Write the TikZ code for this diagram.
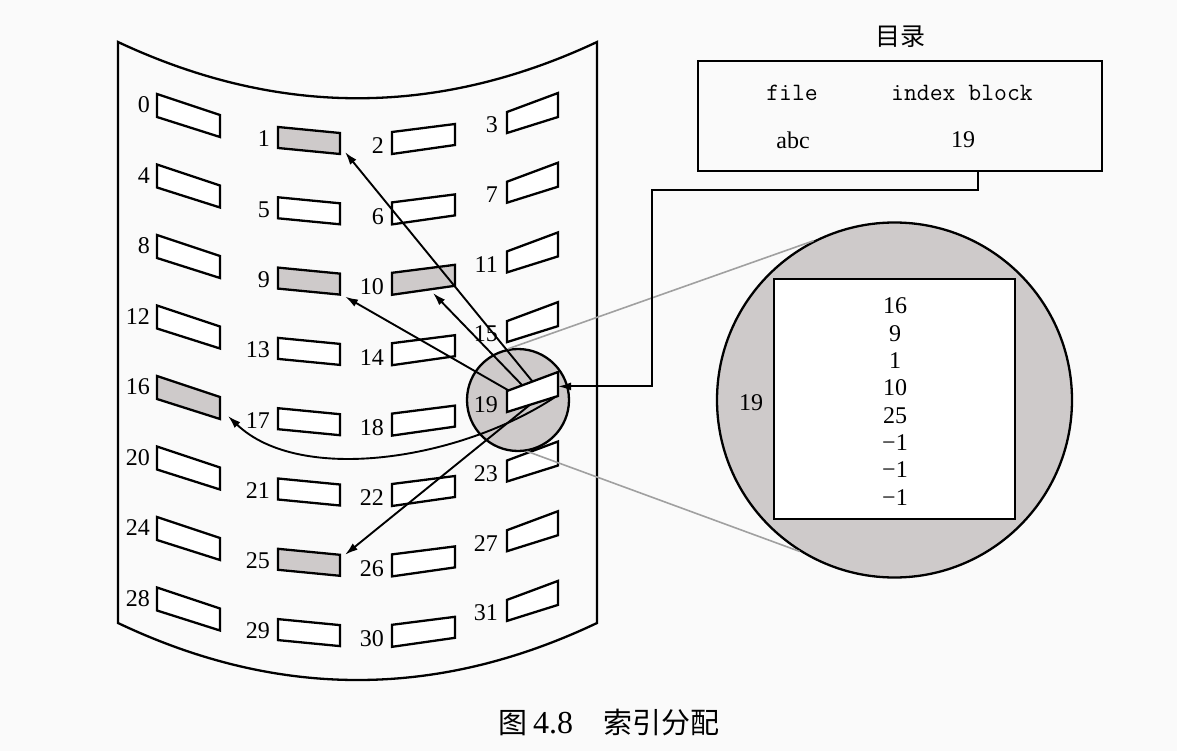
\documentclass[tikz,border=0pt]{standalone}
\usepackage{fontspec}
\setmainfont{Liberation Serif}
\newfontfamily\cjk{Noto Sans CJK SC}
\usetikzlibrary{arrows.meta,calc}
\definecolor{bg}{RGB}{250,250,250}
\definecolor{shade}{RGB}{206,202,202}
\definecolor{rimgray}{RGB}{160,160,160}
\tikzset{
  outline/.style={line width=2.3pt, line join=miter},
  slotbox/.style={draw, line width=2.3pt},
  lbl/.style={font=\fontsize{24}{26}\selectfont, anchor=east, inner sep=0pt},
  txt/.style={font=\fontsize{24}{26}\selectfont, inner sep=0pt},
  mono/.style={font=\ttfamily\fontsize{25}{27}\selectfont, inner sep=0pt},
  arr/.style={line width=1.9pt, -{Latex[length=13pt,width=8pt]}},
  guide/.style={line width=1.6pt, draw=rimgray},
}
\newcommand\dslot[7]{%
  \def\sfill{white}%
  \ifnum#1=1 \def\sfill{shade}\fi
  \ifnum#1=9 \def\sfill{shade}\fi
  \ifnum#1=10 \def\sfill{shade}\fi
  \ifnum#1=16 \def\sfill{shade}\fi
  \ifnum#1=25 \def\sfill{shade}\fi
  \draw[slotbox, fill=\sfill] (#2,#3) coordinate (s#1-tl) -- (#5,#6) coordinate (s#1-tr)
     -- (#5,#6+#7) coordinate (s#1-br) -- (#2,#3+#4) coordinate (s#1-bl) -- cycle;}
\begin{document}
\begin{tikzpicture}[x=1pt,y=-1pt]
\fill[bg] (0,0) rectangle (1177,751);
\useasboundingbox (0,0) rectangle (1177,751);
% disk surface
\draw[outline] (118,42) .. controls (278,117) and (437,117) .. (597,42) -- (597,623)
  .. controls (437,699) and (278,699) .. (118,623) -- cycle;
% blocks
\foreach \k in {0,...,7}{
  \pgfmathtruncatemacro\na{4*\k}
  \pgfmathtruncatemacro\nb{4*\k+1}
  \pgfmathtruncatemacro\nc{4*\k+2}
  \pgfmathtruncatemacro\nd{4*\k+3}
  \pgfmathsetmacro\ya{94+70.5*\k}
  \pgfmathsetmacro\yb{127+70.3*\k}
  \pgfmathsetmacro\yc{132+70.4*\k}
  \pgfmathsetmacro\yd{112+69.7*\k}
  \dslot{\na}{157}{\ya}{23}{220}{\ya+21}{22}
  \node[lbl] (l\na) at (150,\ya+11) {\na};
  \dslot{\nb}{278}{\yb}{21}{340}{\yb+6}{21}
  \node[lbl] (l\nb) at (270,\yb+12) {\nb};
  \dslot{\nc}{392}{\yc}{22}{455}{\yc-8}{21}
  \node[lbl] (l\nc) at (384,\yc+14) {\nc};
  \ifnum\nd=19 \else
    \dslot{\nd}{507}{\yd}{21}{558}{\yd-19}{24}
    \node[lbl] (l\nd) at (498,\yd+13) {\nd};
  \fi
}
% magnifier and enlarged block
\node[circle, draw, line width=2.3pt, fill=shade, minimum size=102pt, inner sep=0pt] (mag) at (518,400) {};
\node[circle, draw, line width=2.3pt, fill=shade, minimum size=355pt, inner sep=0pt] (big) at (894.5,400) {};
\draw[guide] (mag.101) -- (big.117);
\draw[guide] (mag.280) -- (big.238);
\node[draw, fill=white, line width=2.3pt, minimum width=241pt, minimum height=240pt, inner sep=0pt] (blk) at (894.5,399) {};
\foreach \v [count=\i from 0] in {16,9,1,10,25,−1,−1,−1}
  \node[txt] (e\i) at (895,306+27.3*\i) {\v};
\node[txt] (bigl) at (751,403) {19};
% block 19
\dslot{19}{507}{391}{21}{558}{372}{24}
\node[lbl] (l19) at (498,405) {19};
% directory
\node[draw, line width=2.3pt, minimum width=404pt, minimum height=110pt, inner sep=0pt] (dir) at (900,116) {};
\node[font=\cjk\fontsize{25}{27}\selectfont, inner sep=0pt] (dirt) at (900,37) {目录};
\node[mono] (hf) at (792,93) {file};
\node[mono] (hi) at (962,93) {index block};
\node[txt] (fa) at (793,140) {abc};
\node[txt] (fb) at (963,140) {19};
% pointers
\coordinate (a9) at ($(s19-tl)!0.03!(s19-tr)$);
\coordinate (a10) at ($(s19-tl)!0.3!(s19-tr)$);
\coordinate (a1) at ($(s19-tl)!0.5!(s19-tr)$);
\coordinate (a25) at ($(s19-bl)!0.45!(s19-br)$);
\coordinate (a16) at ($(s19-bl)!0.95!(s19-br)$);
\coordinate (ain) at ($(s19-tr)!0.6!(s19-br)$);
\draw[arr] (a1) -- ($(s1-br)+(5,-2)$);
\draw[arr] (a10) -- ($(s10-bl)!0.65!(s10-br)+(0,4)$);
\draw[arr] (a9) -- ($(s9-br)+(5,2)$);
\draw[arr] (a25) -- ($(s25-tr)+(5,0)$);
\draw[arr] (a16) .. controls +(-95,63) and +(72,69) .. ($(s16-br)+(8,-3)$);
\draw[arr] ($(dir.south)+(78,0)$) |- (652,190) |- (ain);
% caption
\node[anchor=west, inner sep=0pt] (cap1) at (498,723) {{\cjk\fontsize{29}{31}\selectfont 图}\hspace{6pt}{\fontsize{32}{34}\selectfont 4.8}};
\node[anchor=west, inner sep=0pt, font=\cjk\fontsize{29}{31}\selectfont] (cap2) at (603,723) {索引分配};
\end{tikzpicture}
\end{document}
